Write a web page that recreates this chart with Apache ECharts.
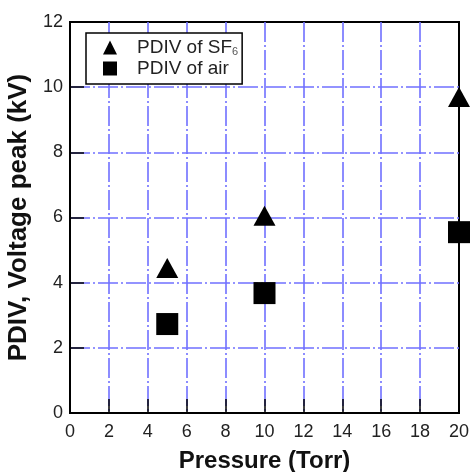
<!DOCTYPE html>
<html>
<head>
<meta charset="utf-8">
<script src="https://cdn.jsdelivr.net/npm/echarts@6/dist/echarts.min.js"></script>
<style>
  html, body { margin: 0; padding: 0; background: #fff; }
  #chart { width: 472px; height: 472px; }
</style>
</head>
<body>
<div id="chart"></div>
<script>
// data
const pressure = [5, 10, 20]
const pdivSF6 = [4.45, 6.05, 9.7]
const pdivAir = [2.73, 3.68, 5.55]
const xTicks = [0, 2, 4, 6, 8, 10, 12, 14, 16, 18, 20]
const yTicks = [0, 2, 4, 6, 8, 10, 12]

const font = 'Arial, "Liberation Sans", sans-serif'
const gridBlue = '#7070ff'
const dashDot = [20, 3, 2, 3]

const chart = echarts.init(document.getElementById('chart'))

chart.setOption({
  animation: false,
  backgroundColor: '#fff',
  textStyle: { fontFamily: font },
  grid: {
    left: 70,
    right: 13,
    top: 22,
    bottom: 59,
    outerBoundsMode: 'none',
    containLabel: false,
    show: true,
    borderColor: '#000',
    borderWidth: 2
  },
  legend: {
    orient: 'vertical',
    left: 86,
    top: 33,
    padding: [5, 4, 6, 17],
    itemGap: 2,
    itemWidth: 14,
    itemHeight: 14,
    borderColor: '#000',
    borderWidth: 1.5,
    backgroundColor: '#fff',
    formatter: function (name) {
      if (name === 'SF6') return '{t|PDIV of SF}{s|6}'
      return '{t|PDIV of air}'
    },
    textStyle: {
      padding: [0, 0, 0, 15],
      rich: {
        t: { fontSize: 19, color: '#222', fontFamily: font },
        s: { fontSize: 11, color: '#555', fontFamily: font, verticalAlign: 'bottom', padding: [8, 0, 0, 0] }
      }
    },
    data: [
      { name: 'SF6', icon: 'triangle' },
      { name: 'air', icon: 'rect' }
    ]
  },
  xAxis: {
    type: 'value',
    min: 0,
    max: 20,
    interval: 2,
    name: 'Pressure (Torr)',
    nameLocation: 'middle',
    nameGap: 36,
    nameTextStyle: { fontSize: 24, fontWeight: 'bold', color: '#111', fontFamily: font },
    axisLine: { show: true, lineStyle: { color: '#000', width: 2 } },
    axisTick: { show: true, inside: true, length: 14, lineStyle: { color: '#000', width: 1.5 } },
    axisLabel: {
      margin: 10,
      fontSize: 18,
      color: '#222',
      formatter: function (v) { return xTicks.indexOf(v) >= 0 ? String(v) : '' }
    },
    splitLine: {
      show: true,
      showMinLine: false,
      showMaxLine: false,
      lineStyle: { color: gridBlue, width: 1.6, type: dashDot }
    }
  },
  yAxis: {
    type: 'value',
    min: 0,
    max: 12,
    interval: 2,
    name: 'PDIV, Voltage peak (kV)',
    nameLocation: 'middle',
    nameGap: 38,
    nameTextStyle: { fontSize: 26, fontWeight: 'bold', color: '#111', fontFamily: font },
    axisLine: { show: true, lineStyle: { color: '#000', width: 2 } },
    axisTick: { show: true, inside: true, length: 14, lineStyle: { color: '#000', width: 1.5 } },
    axisLabel: {
      margin: 7,
      fontSize: 18,
      color: '#222',
      formatter: function (v) { return yTicks.indexOf(v) >= 0 ? String(v) : '' }
    },
    splitLine: {
      show: true,
      showMinLine: false,
      showMaxLine: false,
      lineStyle: { color: gridBlue, width: 1.6, type: dashDot }
    }
  },
  series: [
    {
      name: 'SF6',
      type: 'scatter',
      symbol: 'triangle',
      symbolSize: [22, 20],
      itemStyle: { color: '#000', opacity: 1 },
      data: pressure.map((p, i) => [p, pdivSF6[i]]),
      z: 5
    },
    {
      name: 'air',
      type: 'scatter',
      symbol: 'rect',
      symbolSize: 22,
      itemStyle: { color: '#000', opacity: 1 },
      data: pressure.map((p, i) => [p, pdivAir[i]]),
      z: 5
    }
  ]
})
</script>
</body>
</html>
